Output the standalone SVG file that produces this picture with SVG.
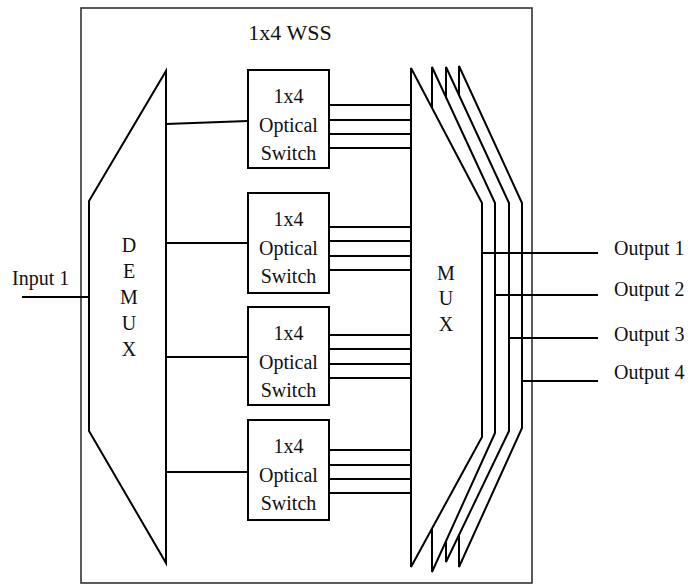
<svg xmlns="http://www.w3.org/2000/svg" width="688" height="585" viewBox="0 0 688 585">
<style>
.ln{stroke:#000;stroke-width:2;fill:none}
.sh{stroke:#000;stroke-width:2;fill:#fff;stroke-linejoin:miter}
.t{font-family:"Liberation Serif","Times New Roman",serif;font-size:20px;fill:#111}
.c{text-anchor:middle}
</style>
<rect width="688" height="585" fill="#fff"/>
<g id="wss">
<rect x="81" y="8" width="451" height="575" fill="none" stroke="#333" stroke-width="1.6"/>
<text class="t c" x="290" y="40" style="font-size:22px">1x4 WSS</text>
</g>
<g id="demux">
<polygon class="sh" points="166,71 166,563 89,431 89,201"/>
<text class="t c" x="129" y="252">D</text>
<text class="t c" x="129" y="278">E</text>
<text class="t c" x="129" y="304">M</text>
<text class="t c" x="129" y="330">U</text>
<text class="t c" x="129" y="356">X</text>
</g>
<g id="mux">
<polygon class="sh" points="459,66 522,203 522,428 459,567"/>
<polygon class="sh" points="446,67 509,203 509,431 446,562"/>
<polygon class="sh" points="432,67 495,203 495,433 432,572"/>
<polygon class="sh" points="411,68 482,203 482,437 411,567"/>
<text class="t c" x="446" y="280">M</text>
<text class="t c" x="446" y="305">U</text>
<text class="t c" x="446" y="331">X</text>
</g>
<g id="switch1">
<rect class="sh" x="248" y="70" width="81" height="98"/>
<text class="t c" x="288.5" y="103">1x4</text>
<text class="t c" x="288.5" y="132">Optical</text>
<text class="t c" x="288.5" y="160">Switch</text>
</g>
<g id="switch2">
<rect class="sh" x="248" y="193" width="81" height="100"/>
<text class="t c" x="288.5" y="226">1x4</text>
<text class="t c" x="288.5" y="255">Optical</text>
<text class="t c" x="288.5" y="283">Switch</text>
</g>
<g id="switch3">
<rect class="sh" x="248" y="307" width="81" height="98"/>
<text class="t c" x="288.5" y="340">1x4</text>
<text class="t c" x="288.5" y="369">Optical</text>
<text class="t c" x="288.5" y="397">Switch</text>
</g>
<g id="switch4">
<rect class="sh" x="248" y="420" width="81" height="100"/>
<text class="t c" x="288.5" y="453">1x4</text>
<text class="t c" x="288.5" y="482">Optical</text>
<text class="t c" x="288.5" y="510">Switch</text>
</g>
<g id="labels">
<text class="t" x="12" y="285">Input 1</text>
<text class="t" x="614" y="255">Output 1</text>
<text class="t" x="614" y="296">Output 2</text>
<text class="t" x="614" y="341">Output 3</text>
<text class="t" x="614" y="379">Output 4</text>
</g>
<g id="connectors">
<path class="ln" d="M22,297H89"/>
<path class="ln" d="M166,124L248,121M166,243H248M166,357H248M166,472H248"/>
<path class="ln" d="M329,105H411M329,120H411M329,134H411M329,148H411"/>
<path class="ln" d="M329,227H411M329,241H411M329,256H411M329,270H411"/>
<path class="ln" d="M329,335H411M329,349H411M329,364H411M329,378H411"/>
<path class="ln" d="M329,450H411M329,465H411M329,479H411M329,493H411"/>
<path class="ln" d="M482,253H598M495,295H598M509,338H598M522,381H598"/>
</g>
</svg>
